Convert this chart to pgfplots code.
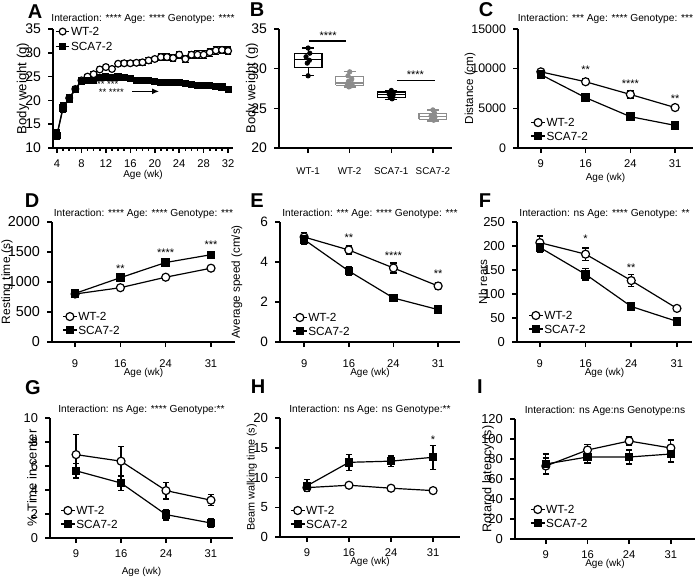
\documentclass[border=0pt]{standalone}
\usepackage{fontspec}
\setmainfont{Liberation Sans}
\usepackage{graphicx}
\usepackage{pgfplots}
\pgfplotsset{compat=1.18}
\usetikzlibrary{arrows.meta}
\definecolor{boxgray}{gray}{0.55}
\tikzset{sigstar/.style={font=\fontsize{5.5}{6}\selectfont, anchor=center},
  ylab/.style={rotate=90, anchor=center, inner sep=0pt, font=\fontsize{6.6}{7}\selectfont}}
\newcommand{\ylabtext}[2]{\scalebox{#1}{#2}}
\pgfplotsset{
  panel/.style={
    scale only axis, anchor=south west, axis lines*=left, clip=false,
    axis line style={line width=0.75pt},
    every tick/.style={line width=0.75pt, black},
    tick align=outside, major tick length=2.5pt, minor tick length=1.5pt,
    yticklabel style={font=\fontsize{6.8}{7}\selectfont},
    xticklabel style={font=\fontsize{5.6}{6}\selectfont},
    xlabel style={font=\fontsize{5}{6}\selectfont, at={(axis description cs:0.5,0)}, anchor=center},
    title style={font=\fontsize{5.1}{6}\selectfont, at={(axis description cs:0.5,1)}, anchor=base, yshift=-3.2pt},
    /pgf/number format/assume math mode=true,
    /pgf/number format/1000 sep={},
    scaled y ticks=false,
    legend cell align=left,
    legend style={draw=none, fill=none, font=\fontsize{5.9}{6}\selectfont, anchor=north west, inner sep=0pt,
      nodes={inner sep=0.5pt, text depth=0pt}, row sep=1.6pt},
    legend image code/.code={\draw[mark repeat=2,mark phase=2] plot coordinates {(0cm,0cm) (0.12cm,0cm) (0.24cm,0cm)};},
    xlabel={Age (wk)},
  },
  xlab/.style={xlabel style={yshift=-#1}},
  cat/.style={xtick={0,1,2,3}, xticklabels={9,16,24,31}},
  wt/.style={black, line width=0.6pt, mark=*, mark size=2pt, mark options={fill=white, solid},
    error bars/y dir=both, error bars/y explicit, error bars/error bar style={line width=0.6pt},
    error bars/error mark options={rotate=90, mark size=1.6pt, line width=0.6pt}},
  sca/.style={black, line width=0.6pt, mark=square*, mark size=1.8pt, mark options={fill=black, solid},
    error bars/y dir=both, error bars/y explicit, error bars/error bar style={line width=0.6pt},
    error bars/error mark options={rotate=90, mark size=1.6pt, line width=0.6pt}},
}
\newcommand{\panelletter}[2]{\node[font=\fontsize{10}{11}\selectfont\bfseries] at (#1) {#2};}
\begin{document}
\begin{tikzpicture}
\path[use as bounding box] (0,0) rectangle (350pt,-288.5pt);
% Panel letters
\panelletter{17.5pt,-6pt}{A}
\panelletter{128.5pt,-5pt}{B}
\panelletter{243pt,-5pt}{C}
\panelletter{16pt,-100.5pt}{D}
\panelletter{128.5pt,-100.5pt}{E}
\panelletter{242.5pt,-100.5pt}{F}
\panelletter{16.5pt,-194pt}{G}
\panelletter{129pt,-193.5pt}{H}
\panelletter{240pt,-193.5pt}{I}

% ---------------- A
\begin{axis}[panel, at={(26.5pt,-74pt)}, width=90pt, height=59.5pt,
  xmin=3.35, xmax=32.8, ymin=10, ymax=35,
  xtick={4,8,...,32}, minor xtick={5,6,7,9,10,11,13,14,15,17,18,19,21,22,23,25,26,27,29,30,31},
  ytick={10,15,...,35},
  yticklabel style={font=\fontsize{7}{8}\selectfont}, xlab=13.5pt,
  title={Interaction: **** Age: **** Genotype: ****}, title style={yshift=1pt},
  legend style={at={(axis description cs:0.01,1.025)}, row sep=2.3pt}]
\addplot[wt, mark size=1.7pt] table[x=wk, y=v, y error=e, row sep=\\] {
wk v e\\ 4 12.8 1.0\\ 5 18.6 1.0\\ 6 20.5 0.8\\ 7 22.4 0.6\\ 8 24.2 0.5\\ 9 25.0 0.5\\ 10 25.5 0.5\\
11 26.5 0.5\\ 12 27.0 0.5\\ 13 26.6 0.5\\ 14 27.7 0.5\\ 15 27.8 0.5\\ 16 27.8 0.5\\ 17 27.9 0.5\\
18 28.0 0.6\\ 19 28.4 0.6\\ 20 28.7 0.6\\ 21 29.1 0.7\\ 22 29.1 0.7\\ 23 28.9 0.7\\ 24 29.6 0.7\\
25 28.7 0.7\\ 26 29.6 0.7\\ 27 29.6 0.8\\ 28 29.6 0.8\\ 29 30.1 0.8\\ 30 30.5 0.8\\ 31 30.6 0.8\\ 32 30.4 0.8\\
};
\addplot[sca, mark size=1.5pt] table[x=wk, y=v, y error=e, row sep=\\] {
wk v e\\ 4 12.7 0.8\\ 5 18.4 1.0\\ 6 20.3 0.6\\ 7 22.3 0.5\\ 8 24.0 0.4\\ 9 24.2 0.4\\ 10 24.2 0.4\\
11 24.8 0.4\\ 12 24.9 0.3\\ 13 24.8 0.3\\ 14 24.9 0.3\\ 15 24.8 0.3\\ 16 24.6 0.3\\ 17 24.2 0.3\\
18 24.1 0.3\\ 19 24.2 0.3\\ 20 24.0 0.3\\ 21 23.8 0.3\\ 22 23.8 0.3\\ 23 23.7 0.3\\ 24 23.7 0.3\\
25 23.6 0.3\\ 26 23.4 0.3\\ 27 23.2 0.3\\ 28 23.1 0.3\\ 29 23.1 0.3\\ 30 23.0 0.3\\ 31 22.8 0.3\\ 32 22.3 0.3\\
};
\legend{WT-2,SCA7-2}
\node[ylab] at (axis description cs:-0.167,0.5) {Body weight (g)};
\node[sigstar, font=\fontsize{4.8}{5}\selectfont] at (axis cs:12.3,23.3) {** ***};
\node[sigstar, font=\fontsize{4.8}{5}\selectfont] at (axis cs:12.9,21.8) {** ****};
\draw[-{Latex[length=3.5pt,width=3pt]}, line width=0.6pt] (axis cs:16.3,21.9) -- (axis cs:20.7,21.9);
\end{axis}

% ---------------- B
\begin{axis}[panel, at={(139.5pt,-74pt)}, width=86.5pt, height=59.5pt,
  xmin=-0.7, xmax=3.46, ymin=20, ymax=35,
  xtick={0,1,2,3}, xticklabels={WT-1,WT-2,SCA7-1,SCA7-2}, xlabel={},
  xticklabel style={font=\fontsize{4.9}{6}\selectfont, yshift=-4pt},
  yticklabel style={font=\fontsize{7}{8}\selectfont},
  ytick={20,25,30,35},
  unbounded coords=jump]
\addplot[black, line width=0.6pt] coordinates {
(-0.335,30.1) (0.335,30.1) (0.335,31.9) (-0.335,31.9) (-0.335,30.1) (0,nan)
(-0.335,31.15) (0.335,31.15) (0,nan)
(0,31.9) (0,32.6) (0,nan) (-0.14,32.6) (0.14,32.6) (0,nan)
(0,30.1) (0,29.1) (0,nan) (-0.14,29.1) (0.14,29.1)};
\addplot[boxgray, line width=0.6pt] coordinates {
(0.665,27.9) (1.335,27.9) (1.335,29.0) (0.665,29.0) (0.665,27.9) (0,nan)
(0.665,28.2) (1.335,28.2) (0,nan)
(1,29.0) (1,29.6) (0,nan) (0.86,29.6) (1.14,29.6) (0,nan)
(1,27.9) (1,27.7) (0,nan) (0.86,27.7) (1.14,27.7)};
\addplot[black, line width=0.6pt] coordinates {
(1.665,26.4) (2.335,26.4) (2.335,27.05) (1.665,27.05) (1.665,26.4) (0,nan)
(1.665,26.75) (2.335,26.75) (0,nan)
(2,27.05) (2,27.25) (0,nan) (1.86,27.25) (2.14,27.25) (0,nan)
(2,26.4) (2,26.1) (0,nan) (1.86,26.1) (2.14,26.1)};
\addplot[boxgray, line width=0.6pt] coordinates {
(2.665,23.6) (3.335,23.6) (3.335,24.35) (2.665,24.35) (2.665,23.6) (0,nan)
(2.665,24.0) (3.335,24.0) (0,nan)
(3,24.35) (3,24.8) (0,nan) (2.86,24.8) (3.14,24.8) (0,nan)
(3,23.6) (3,23.4) (0,nan) (2.86,23.4) (3.14,23.4)};
\addplot[only marks, mark=*, mark size=1.1pt, black] coordinates {(0,32.6) (0.04,31.95) (-0.05,31.5) (0.03,31.05) (-0.02,30.7) (0,29.1)};
\addplot[only marks, mark=*, mark size=1.1pt, boxgray] coordinates {(1,29.6) (0.96,29.1) (1.05,28.7) (0.97,28.4) (1.06,28.1) (0.94,27.9) (1.02,27.8) (0.98,27.7)};
\addplot[only marks, mark=*, mark size=1.1pt, black] coordinates {(2,27.25) (2.05,27.0) (1.95,26.8) (2.04,26.6) (1.97,26.4) (2.02,26.2)};
\addplot[only marks, mark=*, mark size=1.1pt, boxgray] coordinates {(3,24.8) (3.04,24.4) (2.96,24.1) (3.05,23.9) (2.97,23.7) (3.02,23.5)};
\node[ylab] at (axis description cs:-0.156,0.5) {\ylabtext{0.985}{Body weight (g)}};
\draw[line width=0.7pt] (axis cs:0.03,33.5) -- (axis cs:0.9,33.5);
\node[sigstar] at (axis cs:0.48,34.2) {****};
\draw[line width=0.7pt] (axis cs:2.14,28.5) -- (axis cs:3.05,28.5);
\node[sigstar] at (axis cs:2.58,29.3) {****};
\end{axis}

% ---------------- C
\begin{axis}[panel, cat, at={(259pt,-74pt)}, width=87.5pt, height=59.5pt,
  xmin=-0.51, xmax=3.4, ymin=0, ymax=15000,
  ytick={0,5000,10000,15000},
  yticklabel style={font=\fontsize{6.2}{7}\selectfont}, xlab=15pt,
  title={Interaction: *** Age: **** Genotype: ***}, title style={yshift=1pt},
  legend style={at={(axis description cs:0.07,0.26)}}]
\addplot[wt] table[x=x, y=v, y error=e, row sep=\\] {x v e\\ 0 9600 300\\ 1 8350 350\\ 2 6750 450\\ 3 5100 300\\};
\addplot[sca] table[x=x, y=v, y error=e, row sep=\\] {x v e\\ 0 9250 300\\ 1 6350 400\\ 2 3950 200\\ 3 2850 200\\};
\legend{WT-2,SCA7-2}
\node[ylab] at (axis description cs:-0.274,0.5) {\ylabtext{0.88}{Distance (cm)}};
\node[sigstar] at (axis cs:1,9850) {**};
\node[sigstar] at (axis cs:2,8050) {****};
\node[sigstar] at (axis cs:3,6200) {**};
\end{axis}

% ---------------- D
\begin{axis}[panel, cat, at={(26pt,-171pt)}, width=91.5pt, height=60pt,
  xmin=-0.51, xmax=3.53, ymin=0, ymax=2000,
  ytick={0,500,...,2000},
  yticklabel style={font=\fontsize{7.2}{8}\selectfont},
  xticklabel style={yshift=-3pt}, xlab=15.5pt,
  title={Interaction: **** Age: **** Genotype: ***},
  legend style={at={(axis description cs:0.055,0.258)}}]
\addplot[wt] table[x=x, y=v, y error=e, row sep=\\] {x v e\\ 0 800 30\\ 1 905 30\\ 2 1080 30\\ 3 1230 35\\};
\addplot[sca] table[x=x, y=v, y error=e, row sep=\\] {x v e\\ 0 810 30\\ 1 1072 35\\ 2 1325 30\\ 3 1455 30\\};
\legend{WT-2,SCA7-2}
\node[ylab] at (axis description cs:-0.246,0.5) {\ylabtext{0.91}{Resting time (s)}};
\node[sigstar] at (axis cs:1,1215) {**};
\node[sigstar] at (axis cs:2,1485) {****};
\node[sigstar] at (axis cs:3,1615) {***};
\end{axis}

% ---------------- E
\begin{axis}[panel, cat, at={(140pt,-171pt)}, width=90pt, height=60pt,
  xmin=-0.54, xmax=3.49, ymin=0, ymax=6,
  ytick={0,2,4,6},
  xticklabel style={yshift=-3pt}, xlab=15.5pt,
  title={Interaction: *** Age: **** Genotype: ***},
  legend style={at={(axis description cs:0.067,0.25)}}]
\addplot[wt] table[x=x, y=v, y error=e, row sep=\\] {x v e\\ 0 5.25 0.22\\ 1 4.6 0.2\\ 2 3.7 0.25\\ 3 2.8 0.18\\};
\addplot[sca] table[x=x, y=v, y error=e, row sep=\\] {x v e\\ 0 5.12 0.22\\ 1 3.55 0.2\\ 2 2.2 0.12\\ 3 1.62 0.1\\};
\legend{WT-2,SCA7-2}
\node[ylab] at (axis description cs:-0.239,0.5) {\ylabtext{0.88}{Average speed (cm/s)}};
\node[sigstar] at (axis cs:1,5.22) {**};
\node[sigstar] at (axis cs:2,4.3) {****};
\node[sigstar] at (axis cs:3,3.42) {**};
\end{axis}

% ---------------- F
\begin{axis}[panel, cat, at={(258.5pt,-171pt)}, width=87.5pt, height=60pt,
  xmin=-0.5, xmax=3.33, ymin=0, ymax=250,
  ytick={0,50,...,250},
  yticklabel style={font=\fontsize{6.5}{7}\selectfont},
  xticklabel style={yshift=-3pt}, xlab=15.5pt,
  title={Interaction: ns Age: **** Genotype: **},
  legend style={at={(axis description cs:0.063,0.267)}}]
\addplot[wt] table[x=x, y=v, y error=e, row sep=\\] {x v e\\ 0 207 14\\ 1 183 13\\ 2 128 13\\ 3 70 5\\};
\addplot[sca] table[x=x, y=v, y error=e, row sep=\\] {x v e\\ 0 197 11\\ 1 141 12\\ 2 74 6\\ 3 43 3\\};
\legend{WT-2,SCA7-2}
\node[ylab] at (axis description cs:-0.194,0.5) {\ylabtext{0.88}{Nb rears}};
\node[sigstar] at (axis cs:1,215) {*};
\node[sigstar] at (axis cs:2,155) {**};
\end{axis}

% ---------------- G
\begin{axis}[panel, cat, at={(25pt,-269pt)}, width=91.5pt, height=60pt,
  xmin=-0.58, xmax=3.49, ymin=0, ymax=10,
  ytick={0,2,...,10},
  yticklabel style={font=\fontsize{6.4}{7}\selectfont}, xlab=17pt,
  title={Interaction: ns Age: **** Genotype:**},
  legend style={at={(axis description cs:0.055,0.275)}}]
\addplot[wt] table[x=x, y=v, y error=e, row sep=\\] {x v e\\ 0 6.95 1.65\\ 1 6.4 1.25\\ 2 3.95 0.7\\ 3 3.15 0.45\\};
\addplot[sca] table[x=x, y=v, y error=e, row sep=\\] {x v e\\ 0 5.6 0.6\\ 1 4.58 0.6\\ 2 1.95 0.45\\ 3 1.25 0.33\\};
\legend{WT-2,SCA7-2}
\node[ylab] at (axis description cs:-0.098,0.5) {\ylabtext{0.985}{\% Time in center}};
\end{axis}

% ---------------- H
\begin{axis}[panel, cat, at={(140pt,-268.5pt)}, width=90pt, height=59.5pt,
  xmin=-0.64, xmax=3.64, ymin=0, ymax=20,
  ytick={0,5,...,20},
  yticklabel style={font=\fontsize{6.6}{7}\selectfont}, xlab=12.5pt,
  title={Interaction: ns Age: ns Genotype:**},
  legend style={at={(axis description cs:0.055,0.269)}}]
\addplot[wt] table[x=x, y=v, y error=e, row sep=\\] {x v e\\ 0 8.3 0.5\\ 1 8.7 0.4\\ 2 8.2 0.5\\ 3 7.8 0.5\\};
\addplot[sca] table[x=x, y=v, y error=e, row sep=\\] {x v e\\ 0 8.6 1.0\\ 1 12.55 1.35\\ 2 12.75 0.85\\ 3 13.4 2.0\\};
\legend{WT-2,SCA7-2}
\node[ylab] at (axis description cs:-0.156,0.5) {\ylabtext{0.82}{Beam walking time (s)}};
\node[sigstar] at (axis cs:3,16.4) {*};
\end{axis}

% ---------------- I
\begin{axis}[panel, cat, at={(257.5pt,-269.5pt)}, width=90pt, height=60pt,
  xmin=-0.74, xmax=3.58, ymin=0, ymax=120,
  ytick={0,20,...,120},
  yticklabel style={font=\fontsize{6.5}{7}\selectfont}, xlab=12.5pt,
  title={Interaction: ns Age:ns Genotype:ns},
  legend style={at={(axis description cs:0.083,0.292)}}]
\addplot[wt] table[x=x, y=v, y error=e, row sep=\\] {x v e\\ 0 73 8\\ 1 89 5.5\\ 2 98 4\\ 3 91 8\\};
\addplot[sca] table[x=x, y=v, y error=e, row sep=\\] {x v e\\ 0 75 10\\ 1 82 6\\ 2 82 7\\ 3 85 8\\};
\legend{WT-2,SCA7-2}
\node[ylab] at (axis description cs:-0.15,0.5) {\ylabtext{0.955}{Rotarod latency (s)}};
\end{axis}
\end{tikzpicture}
\end{document}
